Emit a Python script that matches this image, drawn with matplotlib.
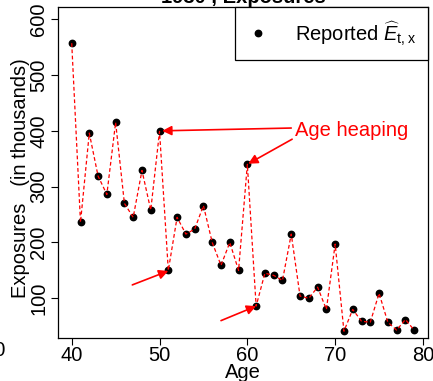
import matplotlib
matplotlib.use("Agg")
from matplotlib import pyplot as plt

plt.rcParams['font.family'] = ['Liberation Sans', 'DejaVu Sans']
plt.rcParams['mathtext.fontset'] = 'custom'
plt.rcParams['mathtext.rm'] = 'Liberation Sans'
plt.rcParams['mathtext.it'] = 'Liberation Sans:italic'

# reported exposures (thousands) by age, 1930
ages = list(range(40, 80))
exposures = [557, 236, 396, 319, 286, 415, 270, 245, 329, 258,
             399, 150, 245, 215, 224, 266, 200, 159, 200, 150,
             340, 86, 145, 141, 132, 215, 104, 100, 120, 80,
             197, 41, 80, 59, 57, 109, 57, 43, 62, 43]

# arrows: (start age, start value, tip age, tip value)
arrows = [(65.0, 405, 50.3, 400),
          (65.1, 385, 60.1, 341),
          (46.9, 124, 51.0, 149),
          (57.0, 60, 61.0, 86)]

fs = 14.5

fig = plt.figure(figsize=(4.33, 3.81), dpi=100)
ax = fig.add_axes([0.134, 0.1129, 0.854, 0.8687])

ax.plot(ages, exposures, 'o', color='black', ms=4.6, zorder=2,
        label=r'Reported $\widehat{E}_{\mathrm{t,x}}$')
ax.plot(ages, exposures, color='red', ls=(0, (3, 2)), lw=0.9, zorder=3)

for x0, y0, x1, y1 in arrows:
    ax.annotate('', xy=(x1, y1), xytext=(x0, y0),
                arrowprops=dict(arrowstyle='-|>', color='red', lw=1.2,
                                mutation_scale=14, shrinkA=0, shrinkB=0))
ax.text(71.9, 401, 'Age heaping', color='red', fontsize=fs,
        ha='center', va='center')

ax.set_xlim(38.44, 80.55)
ax.set_ylim(28.9, 621.8)
ax.set_xticks([40, 50, 60, 70, 80])
ax.set_yticks([100, 200, 300, 400, 500, 600])
ax.tick_params(direction='out', length=5, width=0.8, labelsize=fs, pad=2)
ax.tick_params(axis='x', pad=0.5)
for lab in ax.get_yticklabels():
    lab.set_rotation(90)
    lab.set_va('center')
for s in ax.spines.values():
    s.set_linewidth(0.9)

ax.set_xlabel('Age', fontsize=fs)
ax.xaxis.set_label_coords(0.5, -0.075)
ax.set_ylabel('Exposures   (in thousands)', fontsize=fs)
ax.yaxis.set_label_coords(-0.076, 0.482)

leg = ax.legend(loc='upper right', bbox_to_anchor=(1, 1), borderaxespad=0,
                fancybox=False, edgecolor='black', fontsize=fs,
                borderpad=0.6, handlelength=1.1, handletextpad=1.28,
                framealpha=1)
leg.get_frame().set_linewidth(0.9)

fig.text(0.561, 1 - 3 / 381, '1930 , Exposures', fontsize=fs,
         fontweight='bold', ha='center', va='baseline')
fig.text(6 / 433, 1 - 350 / 381, '80', fontsize=fs, ha='right', va='center')

fig.savefig('out.png', dpi=100)
